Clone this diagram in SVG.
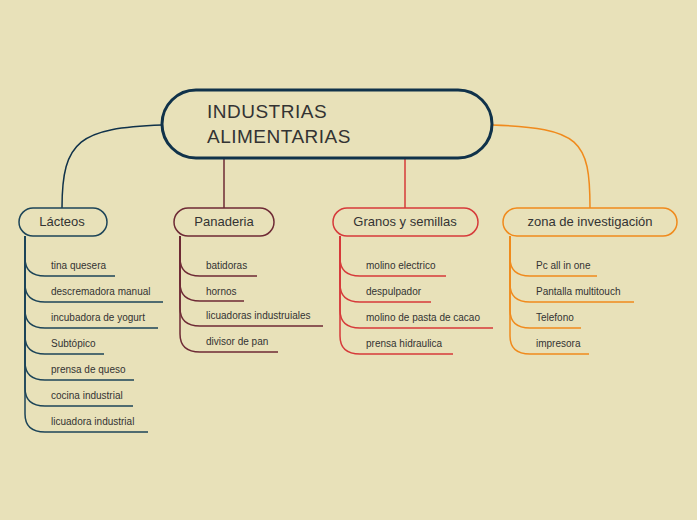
<svg xmlns="http://www.w3.org/2000/svg" width="697" height="520" viewBox="0 0 697 520">
<style>
text{font-family:"Liberation Sans",Arial,sans-serif;fill:#333}
.n{font-size:13px;text-anchor:middle}
.c{font-size:10px}
.l{fill:none;stroke-width:1.5}
.b{fill:#e8e1b9;stroke-width:1.5}
</style>
<rect width="697" height="520" fill="#e8e1b9"/>
<g id="connectors">
<path class="l" stroke="#10324a" stroke-width="2" d="M162,125 C80,128 62,140 62,208"/>
<path class="l" stroke="#6e2a35" d="M224,158 V208"/>
<path class="l" stroke="#d63a3a" d="M405,158 V208"/>
<path class="l" stroke="#f08a1c" d="M492,125 C580,128 590,140 590,208"/>
<g stroke="#1c4458" class="l">
<path d="M25,236 V258 Q25,276 45,276 H115"/>
<path d="M25,236 V284 Q25,302 45,302 H163"/>
<path d="M25,236 V310 Q25,328 45,328 H158"/>
<path d="M25,236 V336 Q25,354 45,354 H104"/>
<path d="M25,236 V362 Q25,380 45,380 H134"/>
<path d="M25,236 V388 Q25,406 45,406 H133"/>
<path d="M25,236 V414 Q25,432 45,432 H148"/>
</g>
<g stroke="#6e2a35" class="l">
<path d="M180,236 V258 Q180,276 200,276 H257"/>
<path d="M180,236 V283 Q180,301 200,301 H244"/>
<path d="M180,236 V308 Q180,326 200,326 H323"/>
<path d="M180,236 V334 Q180,352 200,352 H278"/>
</g>
<g stroke="#d63a3a" class="l">
<path d="M340,236 V258 Q340,276 360,276 H446"/>
<path d="M340,236 V284 Q340,302 360,302 H431"/>
<path d="M340,236 V310 Q340,328 360,328 H493"/>
<path d="M340,236 V336 Q340,354 360,354 H453"/>
</g>
<g stroke="#f08a1c" class="l">
<path d="M510,236 V258 Q510,276 530,276 H597"/>
<path d="M510,236 V284 Q510,302 530,302 H634"/>
<path d="M510,236 V310 Q510,328 530,328 H581"/>
<path d="M510,236 V336 Q510,354 530,354 H589"/>
</g>
</g>
<g id="central">
<rect x="162" y="90" width="330" height="68" rx="34" fill="#e8e1b9" stroke="#10324a" stroke-width="3"/>
<text x="207" y="118" style="font-size:19px;letter-spacing:0.5px">INDUSTRIAS</text>
<text x="207" y="143" style="font-size:19px;letter-spacing:0.5px">ALIMENTARIAS</text>
</g>
<g id="lacteos"><rect class="b" x="19" y="208" width="88" height="28" rx="14" stroke="#1c4458"/><text class="n" x="62" y="226">Lácteos</text></g>
<g id="panaderia"><rect class="b" x="174" y="208" width="100" height="28" rx="14" stroke="#6e2a35"/><text class="n" x="224" y="226">Panaderia</text></g>
<g id="granos"><rect class="b" x="333" y="208" width="145" height="28" rx="14" stroke="#d63a3a"/><text class="n" x="405" y="226">Granos y semillas</text></g>
<g id="zona"><rect class="b" x="503" y="208" width="174" height="28" rx="14" stroke="#f08a1c"/><text class="n" x="590" y="226">zona de investigación</text></g>
<g id="lacteos-items" class="c">
<text class="c" x="51" y="269">tina quesera</text>
<text class="c" x="51" y="295">descremadora manual</text>
<text class="c" x="51" y="321">incubadora de yogurt</text>
<text class="c" x="51" y="347">Subtópico</text>
<text class="c" x="51" y="373">prensa de queso</text>
<text class="c" x="51" y="399">cocina industrial</text>
<text class="c" x="51" y="425">licuadora industrial</text>
</g>
<g id="panaderia-items">
<text class="c" x="206" y="269">batidoras</text>
<text class="c" x="206" y="295">hornos</text>
<text class="c" x="206" y="319">licuadoras industruiales</text>
<text class="c" x="206" y="345">divisor de pan</text>
</g>
<g id="granos-items">
<text class="c" x="366" y="269">molino electrico</text>
<text class="c" x="366" y="295">despulpador</text>
<text class="c" x="366" y="321">molino de pasta de cacao</text>
<text class="c" x="366" y="347">prensa hidraulica</text>
</g>
<g id="zona-items">
<text class="c" x="536" y="269">Pc all in one</text>
<text class="c" x="536" y="295">Pantalla multitouch</text>
<text class="c" x="536" y="321">Telefono</text>
<text class="c" x="536" y="347">impresora</text>
</g>
</svg>
